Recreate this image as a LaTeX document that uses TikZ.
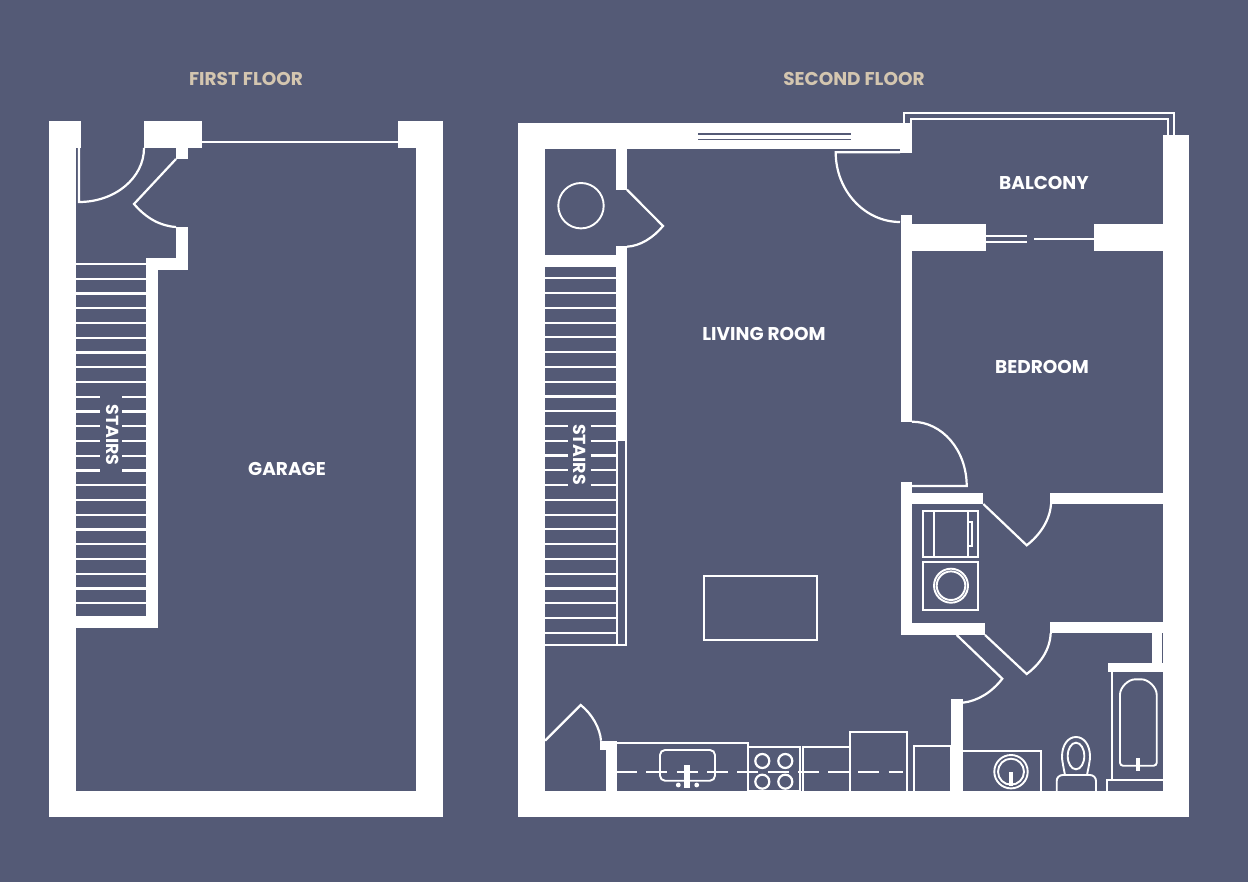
\documentclass[tikz,border=0pt]{standalone}
\usepackage{fontspec}
\setmainfont{Poppins}
\definecolor{planbg}{RGB}{84,90,118}
\definecolor{plantan}{RGB}{212,198,176}
\tikzstyle{wall}=[fill=white,draw=none]
\tikzstyle{thin}=[draw=white,line width=2.2pt]
\tikzstyle{fixture}=[draw=white,line width=1.9pt]
\tikzstyle{roomlabel}=[text=white,font=\fontsize{18.5}{18.5}\selectfont\bfseries,inner sep=0pt]
\tikzstyle{floorlabel}=[roomlabel,text=plantan]
\tikzstyle{stairlabel}=[roomlabel,rotate=-90,font=\fontsize{17.4}{17.4}\selectfont\bfseries]
\begin{document}
\begin{tikzpicture}[x=1pt,y=-1pt]
			\fill[planbg] (0,0) rectangle (1248,882);
			\useasboundingbox (0,0) rectangle (1248,882);
			% First floor walls
			\foreach \xa/\ya/\xb/\yb in {49/121.5/76/817, 49/121.5/81/148, 49/791/442.7/817, 416/121.5/442.7/817, 398/121.5/442.7/148, 144/121.5/202/148, 176/148/188/159, 176/227/188/270, 146/258/188/270, 146/258/157.5/628, 76/616/157.5/628}
				\fill[wall] (\xa,\ya) rectangle (\xb,\yb);
			\draw[thin] (202,141.7) -- (398,141.7);
			% First floor doors
			\draw[thin] (79,148) -- (79,202) .. controls (115,202) and (144,178) .. (144,148);
			\draw[thin] (176,159) -- (134,204) .. controls (146,218) and (160,226) .. (176,227);
			% First floor stairs
			\foreach \k in {0,...,8,15,16,...,23}
				\draw[thin] (76,264+14.75*\k) -- (146,264+14.75*\k);
			\foreach \k in {9,...,14} {
				\draw[thin] (76,264+14.75*\k) -- (100,264+14.75*\k);
				\draw[thin] (122,264+14.75*\k) -- (146,264+14.75*\k);
			}
			% Second floor walls
			\foreach \xa/\ya/\xb/\yb in {518/122.7/544.7/817, 518/122.7/911.7/149.3, 900/149/911.7/153.3, 518/791/1189.3/817, 1163/135/1189.3/817, 616/149/627.3/189.7, 616/246.5/627.3/440.7, 545/255/616/266.7, 900.7/215/911.7/421.7, 900.7/224.3/985.7/250.7, 1094/224.3/1163/250.7, 900.7/481.7/912/635, 900.7/493.3/983.3/504, 900.7/623.3/985/635, 1050/492.7/1163/504, 1050/621.7/1163/633.3, 1151.7/633/1161.7/665, 1107.7/662.7/1163/672.3, 951/699.3/962.7/791, 600/740.7/615/750, 605.7/740.7/616.7/791}
				\fill[wall] (\xa,\ya) rectangle (\xb,\yb);
			% Window and balcony rail
			\draw[planbg,line width=1.7pt] (698,134.2) -- (850.7,134.2) (698,139.5) -- (850.7,139.5);
			\draw[thin] (904,122.7) -- (904,112.7) -- (1174.3,112.7) -- (1174.3,135);
			\draw[thin] (911,122.7) -- (911,119.3) -- (1167.7,119.3) -- (1167.7,135);
			\draw[thin] (985.7,235.7) -- (1027.3,235.7) (985.7,241.7) -- (1027.3,241.7);
			\draw[thin] (1034.3,238.7) -- (1094,238.7);
			% Second floor doors
			\draw[thin] (627,189.7) -- (663,226) .. controls (653,238) and (640,246) .. (627,246.7);
			\draw[thin] (900,152.3) -- (835.7,152.3) .. controls (835.7,191) and (865,222) .. (900,222);
			\draw[thin] (912,421.7) .. controls (942,421.7) and (966.7,450) .. (966.7,486) -- (912,486);
			\draw[thin] (983.3,504) -- (1026.7,545.3) .. controls (1040,535) and (1050,520) .. (1051,504);
			\draw[thin] (985,635) -- (1026.7,674) .. controls (1040,664) and (1050,650) .. (1050.7,633);
			\draw[thin] (956.7,635) -- (1002.3,678.7) .. controls (992,692) and (978,701) .. (962.7,702.7);
			\draw[thin] (545,740.7) -- (580.7,705) .. controls (592,714) and (600,728) .. (601,740.7);
			% Second floor stairs
			\foreach \k in {0,...,9,15,16,...,24}
				\draw[thin] (545,278.3+14.77*\k) -- (616,278.3+14.77*\k);
			\foreach \k in {10,...,14} {
				\draw[thin] (545,278.3+14.77*\k) -- (568,278.3+14.77*\k);
				\draw[thin] (590.7,278.3+14.77*\k) -- (616,278.3+14.77*\k);
			}
			\draw[thin] (545,645) -- (626,645) -- (626,440.7);
			\draw[thin] (617,440.7) -- (617,645);
			% Closet, island, laundry
			\draw[fixture] (581,205.7) circle (22.7pt);
			\draw[fixture] (704,576) rectangle (817,640);
			\draw[fixture] (923.3,510.7) rectangle (978,556.7);
			\draw[fixture] (934,510.7) -- (934,556.7) (967.7,510.7) -- (967.7,556.7);
			\draw[fixture] (968.3,522.3) rectangle (972.3,546);
			\draw[fixture] (923.3,562) rectangle (978.3,610);
			\draw[fixture] (951,585.7) circle (17pt) (951,585.7) circle (14.3pt);
			% Kitchen
			\draw[fixture] (616,742.7) -- (747.7,742.7) -- (747.7,791);
			\draw[fixture,rounded corners=5pt] (660,750) rectangle (715,780.7);
			\draw[thin,dash pattern=on 21pt off 9.3pt] (616,772) -- (903,772);
			\fill[wall] (684.3,765) rectangle (690.3,788);
			\fill[wall] (678.3,785) circle (2.4pt) (696.7,785) circle (2.4pt);
			\draw[fixture] (748.3,747.3) rectangle (800,791);
			\foreach \cx/\cy in {762.3/761, 785.3/761, 762.3/781.7, 785.3/781.7}
				\draw[fixture,line width=2.2pt] (\cx,\cy) circle (7pt);
			\draw[fixture] (803.3,791) -- (803.3,747.3) -- (850,747.3);
			\draw[fixture] (850,791) -- (850,732.3) -- (906.7,732.3) -- (906.7,791);
			\draw[fixture] (914.3,791) -- (914.3,746) -- (950.7,746) -- (950.7,791);
			% Bathroom
			\draw[fixture] (962.7,751.3) -- (1040.7,751.3) -- (1040.7,791);
			\draw[fixture] (1011,771.7) circle (16.7pt) (1011,771.7) circle (13pt);
			\fill[wall] (1009,771.7) rectangle (1013,786);
			\draw[fixture] (1065,775) .. controls (1063,765) and (1062,760) .. (1062,756.7) .. controls (1062,745) and (1068,737) .. (1076,737) .. controls (1084,737) and (1090,745) .. (1090,756.7) .. controls (1090,760) and (1089,765) .. (1087,775);
			\draw[fixture] (1076,756) ellipse (8.3pt and 13.3pt);
			\draw[fixture,rounded corners=6pt] (1056.7,791) -- (1056.7,775) -- (1096,775) -- (1096,791);
			\draw[thin] (1111.7,672) -- (1111.7,780);
			\draw[thin] (1107,791) -- (1107,780) -- (1163,780);
			\draw[fixture,rounded corners=3pt] (1120,697.6) .. controls (1120,687.5) and (1128,679.3) .. (1138.3,679.3) .. controls (1148.5,679.3) and (1156.7,687.5) .. (1156.7,697.6) -- (1156.7,765.7) -- (1120,765.7) -- cycle;
			\fill[wall] (1136,758.3) rectangle (1140,770.7);
			% Labels
			\node[floorlabel] (firstfloor) at (246,79) {FIRST FLOOR};
			\node[floorlabel] (secondfloor) at (854,79) {SECOND FLOOR};
			\node[roomlabel] (garage) at (287,469) {GARAGE};
			\node[roomlabel] (livingroom) at (764,334) {LIVING ROOM};
			\node[roomlabel] (bedroom) at (1042,367) {BEDROOM};
			\node[roomlabel] (balcony) at (1044,183) {BALCONY};
			\node[stairlabel] (stairsone) at (112.5,435) {STAIRS};
			\node[stairlabel] (stairstwo) at (580,454.5) {STAIRS};
		\end{tikzpicture}
\end{document}
